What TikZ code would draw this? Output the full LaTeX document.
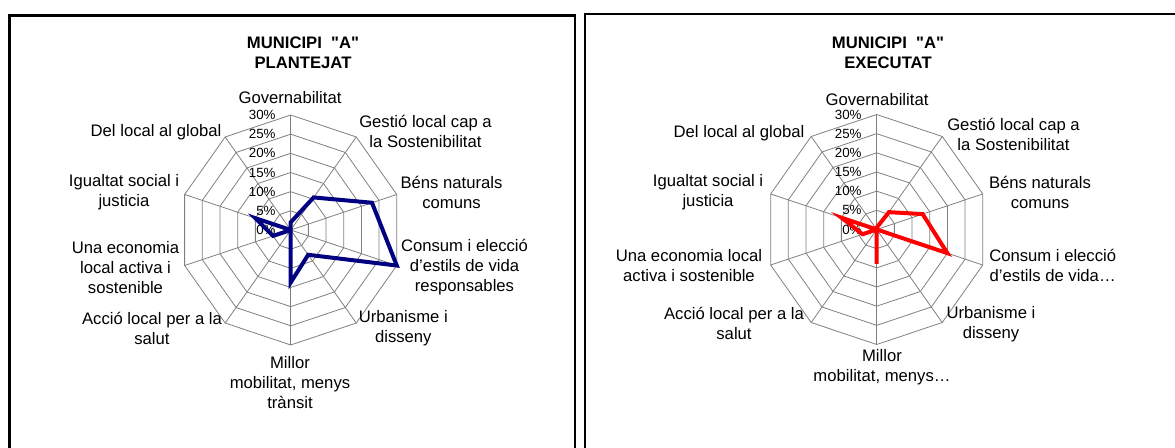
\documentclass[tikz,border=0pt]{standalone}
\usepackage{fontspec}
\setmainfont{Liberation Sans}[Ligatures=TeXOff]

\definecolor{gridgray}{RGB}{128,128,128}
\definecolor{plannavy}{RGB}{0,0,128}
\definecolor{execred}{RGB}{255,0,0}

\tikzset{
	ring/.style={draw=gridgray, line width=0.6pt},
	pct/.style={anchor=east, inner sep=0pt, font=\fontsize{10}{12}\selectfont},
	axlabel/.style={align=center, inner sep=0pt, font=\fontsize{12.5}{15}\selectfont},
	ctitle/.style={align=center, inner sep=0pt, font=\bfseries\fontsize{12.5}{15}\selectfont},
	frameline/.style={draw=black, line width=1.6pt},
	series/.style={line width=3pt, line join=miter}
}

\begin{document}
\begin{tikzpicture}[x=0.75pt,y=-0.75pt]

	\useasboundingbox (0,0) rectangle (1175,448);

	\coordinate (Origin0) at (290.7,230);
	\coordinate (Origin1) at (876.7,229.5);

	\draw[frameline] (9.5,449) -- (9.5,15.5) -- (575,15.5) -- (575,449);
	\draw[frameline] (585,449) -- (585,14) -- (1176,14);

	\begin{scope} [shift={(Origin0)}, xscale=3.717, yscale=-3.833]
		\foreach \r in {5,10,...,30}
			\draw[ring] (90:\r) -- (54:\r) -- (18:\r) -- (-18:\r) -- (-54:\r) -- (-90:\r) -- (-126:\r) -- (-162:\r) -- (162:\r) -- (126:\r) -- cycle;
		\foreach \a in {90,54,18,-18,-54,-90,-126,-162,162,126}
			\draw[ring] (0,0) -- (\a:30);
		\foreach \p in {0,5,...,30}
			\node[pct] (pa\p) at (-4,\p) {\p\%};
		\draw[series, draw=plannavy] (90:2) -- (54:10.5) -- (18:23) -- (-18:30) -- (-54:8) -- (-90:13.7) -- (-126:0) -- (-162:5) -- (162:10) -- (126:0) -- cycle;
	\end{scope}

	\begin{scope} [shift={(Origin1)}, xscale=3.717, yscale=-3.833]
		\foreach \r in {5,10,...,30}
			\draw[ring] (90:\r) -- (54:\r) -- (18:\r) -- (-18:\r) -- (-54:\r) -- (-90:\r) -- (-126:\r) -- (-162:\r) -- (162:\r) -- (126:\r) -- cycle;
		\foreach \a in {90,54,18,-18,-54,-90,-126,-162,162,126}
			\draw[ring] (0,0) -- (\a:30);
		\foreach \p in {0,5,...,30}
			\node[pct] (pb\p) at (-4,\p) {\p\%};
		\draw[series, draw=execred] (90:0.5) -- (54:5.6) -- (18:13) -- (-18:20) -- (-54:0) -- (-90:9) -- (-126:0) -- (-162:4) -- (162:10) -- (126:0) -- cycle;
	\end{scope}

	\node[ctitle] (titleA) at (303,52.7) {MUNICIPI \ "A"\\PLANTEJAT};
	\node[axlabel] (govA) at (290,98) {Governabilitat};
	\node[axlabel] (gestioA) at (425.5,131.7) {Gestió local cap a\\la Sostenibilitat};
	\node[axlabel] (bensA) at (451.5,192.2) {Béns naturals\\comuns};
	\node[axlabel] (consumA) at (464.5,267.3) {Consum i elecció\\d’estils de vida\\responsables};
	\node[axlabel] (urbanA) at (403.3,328.3) {Urbanisme i\\disseny};
	\node[axlabel] (millorA) at (290,382.7) {Millor\\mobilitat, menys\\trànsit};
	\node[axlabel] (saludA) at (152,328.3) {Acció local per a la\\salut};
	\node[axlabel] (economiaA) at (125.5,267.7) {Una economia\\local activa i\\sostenible};
	\node[axlabel] (igualtatA) at (124,192.3) {Igualtat social i\\justicia};
	\node[axlabel] (globalA) at (156,131.7) {Del local al global};

	\node[ctitle] (titleB) at (888,52.7) {MUNICIPI \ "A"\\EXECUTAT};
	\node[axlabel] (govB) at (877,100) {Governabilitat};
	\node[axlabel] (gestioB) at (1013.5,134) {Gestió local cap a\\la Sostenibilitat};
	\node[axlabel] (bensB) at (1040,192) {Béns naturals\\comuns};
	\node[axlabel] (consumB) at (1052.7,265.3) {Consum i elecció\\d’estils de vida…};
	\node[axlabel] (urbanB) at (991,323.8) {Urbanisme i\\disseny};
	\node[axlabel] (millorB) at (882,367.5) {Millor\\mobilitat, menys…};
	\node[axlabel] (saludB) at (734,323.3) {Acció local per a la\\salut};
	\node[axlabel] (economiaB) at (689,265.3) {Una economia local\\activa i sostenible};
	\node[axlabel] (igualtatB) at (708,192) {Igualtat social i\\justicia};
	\node[axlabel] (globalB) at (739,133.3) {Del local al global};

\end{tikzpicture}
\end{document}
